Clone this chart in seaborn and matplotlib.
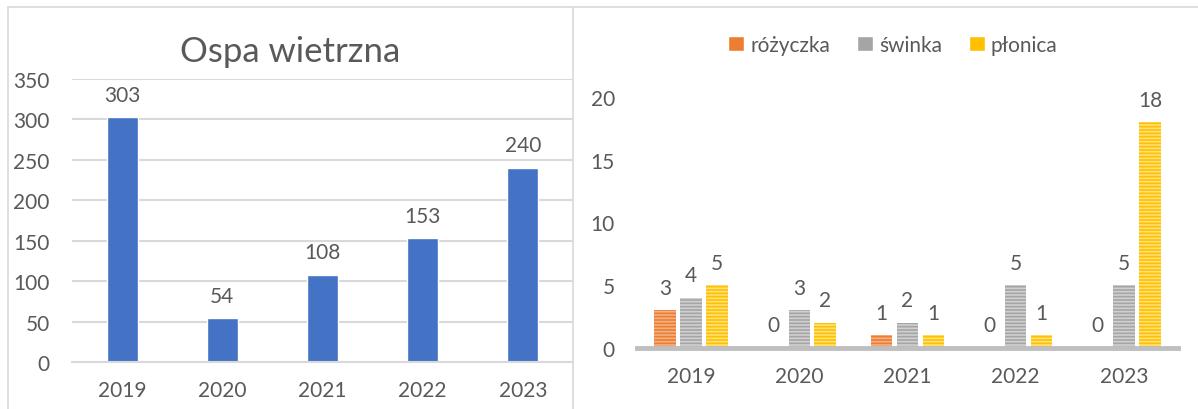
import pandas as pd
import matplotlib.pyplot as plt
import seaborn as sns
from matplotlib.lines import Line2D

lata = ['2019', '2020', '2021', '2022', '2023']
ospa = [303, 54, 108, 153, 240]
rozyczka = [3, 0, 1, 0, 0]
swinka = [4, 3, 2, 5, 5]
plonica = [5, 2, 1, 1, 18]
choroby = ['różyczka', 'świnka', 'płonica']

txt = '#595959'
kolory = ['#ED7D31', '#A5A5A5', '#FFC000']
jasne = ['#F4B183', '#D0D0D0', '#FFE07A']
fs = 15

sns.set_style('white')
plt.rcParams['font.family'] = ['Lato', 'DejaVu Sans']
plt.rcParams['hatch.linewidth'] = 1.2

fig = plt.figure(figsize=(11.98, 4.10), dpi=100)

# panel frames
fig.add_artist(Line2D([8/1198, 8/1198], [0, 1 - 8/410], color='#D9D9D9', lw=1.2))
fig.add_artist(Line2D([8/1198, 1], [1 - 8/410, 1 - 8/410], color='#D9D9D9', lw=1.2))
fig.add_artist(Line2D([573/1198, 573/1198], [0, 1 - 8/410], color='#D9D9D9', lw=1.2))

# left: Ospa wietrzna
ax1 = fig.add_axes([72/1198, 1 - 363/410, 501/1198, 283/410])
df1 = pd.DataFrame({'rok': lata, 'liczba': ospa})
sns.barplot(data=df1, x='rok', y='liczba', color='#4472C4', width=0.31,
            saturation=1, ax=ax1)
ax1.set_ylim(0, 350)
ax1.set_xlim(-0.5, 4.5)
ax1.set_yticks(range(0, 351, 50))
ax1.yaxis.grid(True, color='#D9D9D9', lw=1.5)
ax1.set_axisbelow(True)
sns.despine(ax=ax1, left=True, top=True, right=True)
ax1.spines['bottom'].set_color('#D9D9D9')
ax1.spines['bottom'].set_linewidth(1.5)
ax1.set_xlabel('')
ax1.set_ylabel('')
ax1.tick_params(axis='both', length=0, labelsize=fs, colors=txt)
ax1.tick_params(axis='x', pad=13)
ax1.tick_params(axis='y', pad=16)
ax1.bar_label(ax1.containers[0], padding=9, fontsize=fs, color=txt)
fig.text(290/1198, 1 - 52/410, 'Ospa wietrzna', fontsize=25, color=txt,
         ha='center', va='center')

# right: rozyczka, swinka, plonica
ax2 = fig.add_axes([637/1198, 1 - 349/410, 541/1198, 251/410])
df2 = pd.DataFrame({
    'rok': lata * 3,
    'liczba': rozyczka + swinka + plonica,
    'choroba': [c for c in choroby for _ in lata],
})
sns.barplot(data=df2, x='rok', y='liczba', hue='choroba', hue_order=choroby,
            palette=kolory, width=0.72, gap=0.17, saturation=1, ax=ax2)
for cont, jc in zip(ax2.containers, jasne):
    for p in cont:
        p.set_hatch('-----')
        p.set_edgecolor(jc)
        p.set_linewidth(0)
    ax2.bar_label(cont, padding=9, fontsize=fs, color=txt)
ax2.set_ylim(0, 20)
ax2.set_xlim(-0.5, 4.5)
ax2.set_yticks(range(0, 21, 5))
sns.despine(ax=ax2, left=True, top=True, right=True)
ax2.spines['bottom'].set_color('#BFBFBF')
ax2.spines['bottom'].set_linewidth(3.5)
ax2.set_xlabel('')
ax2.set_ylabel('')
ax2.tick_params(axis='both', length=0, labelsize=fs, colors=txt)
ax2.tick_params(axis='x', pad=13)
ax2.tick_params(axis='y', pad=16)
ax2.legend(loc='center', bbox_to_anchor=(893/1198, 1 - 46/410),
           bbox_transform=fig.transFigure, ncol=3, frameon=False,
           fontsize=fs, labelcolor=txt, handlelength=0.75, handleheight=0.75,
           handletextpad=0.3, columnspacing=1.3)

fig.savefig('out.png', dpi=100)
